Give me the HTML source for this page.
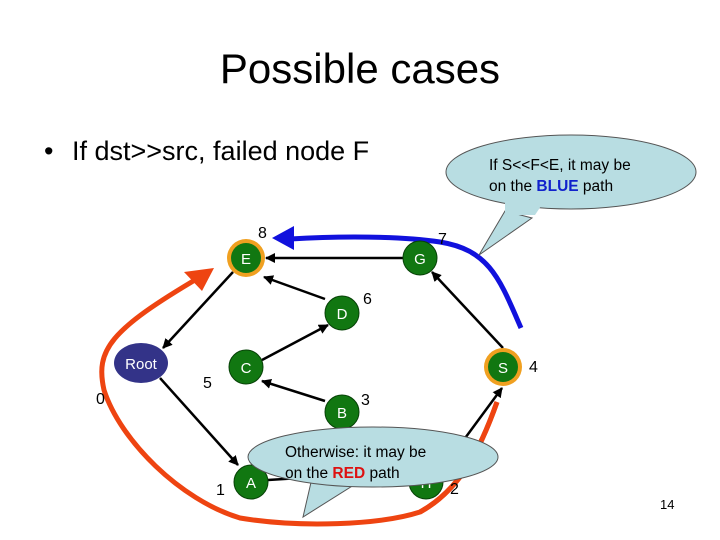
<!DOCTYPE html>
<html><head><style>
body{margin:0;background:#fff}
svg{display:block;font-family:"Liberation Sans",sans-serif}
</style></head><body>
<svg width="720" height="540" viewBox="0 0 720 540" xmlns="http://www.w3.org/2000/svg">
<defs>
<marker id="ah" markerWidth="10" markerHeight="10" refX="9" refY="5" orient="auto" markerUnits="userSpaceOnUse" viewBox="0 0 10 10">
<path d="M0,0 L10,5 L0,10 z" fill="#000"/></marker>
</defs>
<text x="360" y="83" font-size="42" text-anchor="middle">Possible cases</text>
<text x="44" y="160" font-size="27">•</text>
<text x="72" y="160" font-size="27">If dst&gt;&gt;src, failed node F</text>

<!-- red path -->
<path d="M497,402 C480,450 460,490 420,512 C380,525 300,528 240,518 C180,500 120,440 104,390 C95,350 110,330 200,277" fill="none" stroke="#ee4411" stroke-width="5"/>
<polygon points="214,268 184,272 202,291" fill="#ee4411"/>
<!-- blue path -->
<path d="M521,328 C500,280 490,250 440,242 C400,236 340,236 290,239" fill="none" stroke="#1111dd" stroke-width="5"/>
<polygon points="272,238 294,226 294,250" fill="#1111dd"/>

<!-- edges -->
<g stroke="#000" stroke-width="2.5" fill="none">
<line x1="403" y1="258" x2="266" y2="258" marker-end="url(#ah)"/>
<line x1="325" y1="299" x2="264" y2="277" marker-end="url(#ah)"/>
<line x1="233" y1="272" x2="163" y2="348" marker-end="url(#ah)"/>
<line x1="262" y1="360" x2="328" y2="325" marker-end="url(#ah)"/>
<line x1="325" y1="401" x2="262" y2="381" marker-end="url(#ah)"/>
<line x1="160" y1="378" x2="238" y2="465" marker-end="url(#ah)"/>
<line x1="503" y1="348" x2="432" y2="272" marker-end="url(#ah)"/>
<line x1="460" y1="445" x2="502" y2="388" marker-end="url(#ah)"/>
<line x1="268" y1="480" x2="300" y2="478"/>
</g>

<!-- nodes -->
<g font-size="15" fill="#fff" text-anchor="middle">
<circle cx="246" cy="258" r="19" fill="#f0a020"/><circle cx="246" cy="258" r="15" fill="#117711"/><text x="246" y="264">E</text>
<circle cx="420" cy="258" r="17" fill="#117711" stroke="#064006"/><text x="420" y="264">G</text>
<circle cx="342" cy="313" r="17" fill="#117711" stroke="#064006"/><text x="342" y="319">D</text>
<circle cx="246" cy="367" r="17" fill="#117711" stroke="#064006"/><text x="246" y="373">C</text>
<circle cx="342" cy="412" r="17" fill="#117711" stroke="#064006"/><text x="342" y="418">B</text>
<circle cx="503" cy="367" r="19" fill="#f0a020"/><circle cx="503" cy="367" r="15" fill="#117711"/><text x="503" y="373">S</text>
<circle cx="251" cy="482" r="17" fill="#117711" stroke="#064006"/><text x="251" y="488">A</text>
<circle cx="426" cy="482" r="17" fill="#117711" stroke="#064006"/><text x="426" y="488">H</text>
<ellipse cx="141" cy="363" rx="27" ry="20" fill="#333388"/><text x="141" y="369">Root</text>
</g>
<!-- redraw red over H -->
<path d="M497,402 C480,450 460,490 420,512" fill="none" stroke="#ee4411" stroke-width="5"/>

<g font-size="16" fill="#000">
<text x="258" y="238">8</text><text x="438" y="244">7</text><text x="363" y="304">6</text>
<text x="203" y="388">5</text><text x="96" y="404">0</text><text x="361" y="405">3</text>
<text x="529" y="372">4</text><text x="216" y="495">1</text><text x="450" y="494">2</text>
</g>

<!-- callouts -->
<path d="M505,211 L479,255 L532,218 Z" fill="#b8dde2" stroke="#555" stroke-width="1"/>
<ellipse cx="571" cy="172" rx="125" ry="37" fill="#b8dde2" stroke="#555" stroke-width="1"/>
<path d="M505,200 L505,215 L535,215 L545,200Z" fill="#b8dde2"/>
<text x="489" y="170" font-size="15.5">If S&lt;&lt;F&lt;E, it may be</text>
<text x="489" y="191" font-size="15.5">on the <tspan fill="#1122cc" font-weight="bold">BLUE</tspan> path</text>

<path d="M312,478 L303,517 L365,478 Z" fill="#b8dde2" stroke="#555" stroke-width="1"/>
<ellipse cx="373" cy="457" rx="125" ry="30" fill="#b8dde2" stroke="#555" stroke-width="1"/>
<path d="M310,470 L310,482 L368,482 L372,470Z" fill="#b8dde2"/>
<text x="285" y="457" font-size="15.5">Otherwise: it may be</text>
<text x="285" y="478" font-size="15.5">on the <tspan fill="#dd1111" font-weight="bold">RED</tspan> path</text>

<text x="660" y="509" font-size="13">14</text>
</svg>
</body></html>
